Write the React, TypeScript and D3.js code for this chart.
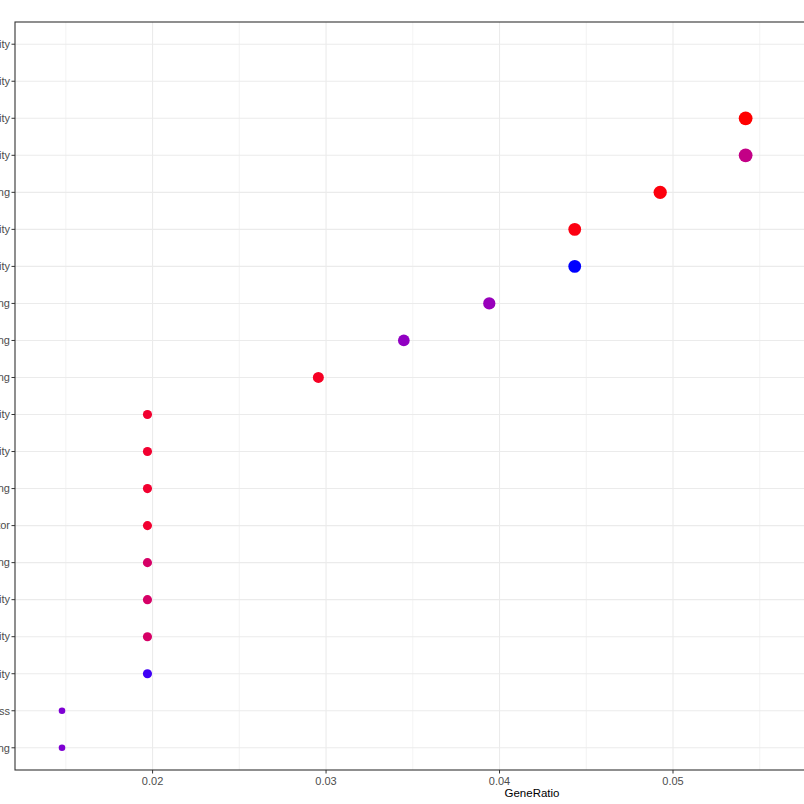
import React from "react";
import * as d3 from "d3";

const terms: string[] = [
  "oxidoreductase activity",
  "transmembrane transporter activity",
  "hydrolase activity",
  "ion channel activity",
  "metal ion binding",
  "kinase activity",
  "receptor activity",
  "carbohydrate binding",
  "lipid binding",
  "calcium ion binding",
  "peptidase activity",
  "transferase activity",
  "heme binding",
  "guanyl-nucleotide exchange factor",
  "actin binding",
  "phosphatase activity",
  "GTPase activity",
  "antioxidant activity",
  "lipid metabolic process",
  "ATP binding",
];
const geneCount: number[] = [14, 12, 11, 11, 10, 9, 9, 8, 7, 6, 4, 4, 4, 4, 4, 4, 4, 4, 3, 3];
const totalGenes = 203;
const pAdjust: number[] = [
  0.0012, 0.003, 0.001, 0.0225, 0.0019, 0.0023, 0.045, 0.0327, 0.034, 0.0045,
  0.0063, 0.0063, 0.0063, 0.0063, 0.0164, 0.0164, 0.0164, 0.0432, 0.037, 0.037,
];
const xTicks: number[] = [0.02, 0.03, 0.04, 0.05, 0.06, 0.07];
const xMinorTicks: number[] = [0.015, 0.025, 0.035, 0.045, 0.055, 0.065];

export default function App() {
  const W = 804, H = 804;
  const left = 15, right = 1049, top = 22, bottom = 770;
  const ratios = geneCount.map((c) => c / totalGenes);
  const rMin = d3.min(ratios)!, rMax = d3.max(ratios)!;
  const ex = (rMax - rMin) * 0.05;
  const x = d3.scaleLinear().domain([rMin - ex, rMax + ex]).range([left, right]);
  const y = d3.scalePoint<string>().domain(terms).range([top, bottom]).padding(0.6);
  const cExt = d3.extent(geneCount) as [number, number];
  const sizeT = (c: number) => Math.sqrt((c - cExt[0]) / (cExt[1] - cExt[0]));
  const rScale = d3.scaleLinear().domain([0, 1]).range([3.3, 7.5]);
  const pExt = d3.extent(pAdjust) as [number, number];
  const color = d3
    .scaleLinear<string>()
    .domain(pExt)
    .range(["#ff0000", "#0000ff"])
    .interpolate(d3.interpolateLab);

  const font = "'Liberation Sans', Arial, sans-serif";

  return (
    <div style={{ position: "absolute", left: 0, top: 0 }}>
      <svg width={W} height={H} style={{ display: "block", background: "#fff" }}>
        <rect x={0} y={0} width={W} height={H} fill="#fff" />
        {xMinorTicks.map((t) => (
          <line key={"mn" + t} x1={x(t)} x2={x(t)} y1={top} y2={bottom} stroke="#f0f0f0" strokeWidth={0.8} />
        ))}
        {xTicks.map((t) => (
          <line key={"mj" + t} x1={x(t)} x2={x(t)} y1={top} y2={bottom} stroke="#ebebeb" strokeWidth={1.1} />
        ))}
        {terms.map((t) => (
          <line key={"h" + t} x1={left} x2={right} y1={y(t)} y2={y(t)} stroke="#ebebeb" strokeWidth={1.1} />
        ))}
        {terms.map((t, i) => (
          <circle
            key={"p" + t}
            cx={x(ratios[i])}
            cy={y(t)}
            r={rScale(sizeT(geneCount[i]))}
            fill={color(pAdjust[i])}
          />
        ))}
        <rect x={left} y={top} width={right - left} height={bottom - top} fill="none" stroke="#333333" strokeWidth={1.1} />
        {terms.map((t) => (
          <g key={"yl" + t}>
            <line x1={left - 3.5} x2={left} y1={y(t)} y2={y(t)} stroke="#333333" strokeWidth={1} />
            <text x={left - 5} y={y(t)! + 3.8} textAnchor="end" fontFamily={font} fontSize={11} fill="#4d4d4d">
              {t}
            </text>
          </g>
        ))}
        {xTicks.map((t) => (
          <g key={"xl" + t}>
            <line x1={x(t)} x2={x(t)} y1={bottom} y2={bottom + 3.5} stroke="#333333" strokeWidth={1} />
            <text x={x(t)} y={bottom + 15} textAnchor="middle" fontFamily={font} fontSize={11} fill="#4d4d4d">
              {d3.format(".2f")(t)}
            </text>
          </g>
        ))}
        <text x={(left + right) / 2} y={bottom + 27} textAnchor="middle" fontFamily={font} fontSize={11.5} fill="#000">
          GeneRatio
        </text>
      </svg>
    </div>
  );
}
